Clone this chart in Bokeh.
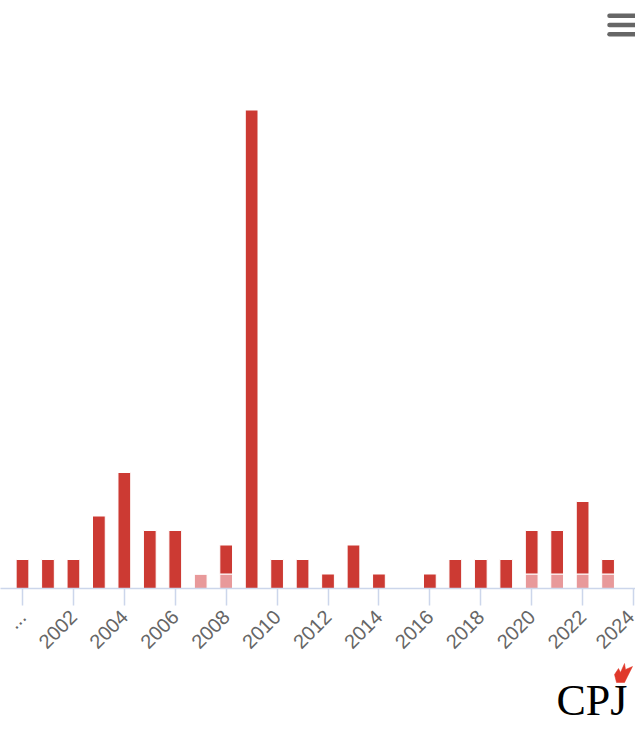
import math
from bokeh.plotting import figure
from bokeh.layouts import column
from bokeh.models import Range1d, FixedTicker, ColumnDataSource
from bokeh.core.properties import value
from bokeh.embed import file_html
from bokeh.resources import INLINE

# ---- data ----
years = [2000, 2001, 2002, 2003, 2004, 2005, 2006, 2007, 2008, 2009, 2010, 2011,
         2012, 2013, 2014, 2015, 2016, 2017, 2018, 2019, 2020, 2021, 2022, 2023]
confirmed = [2, 2, 2, 5, 8, 4, 4, 0, 2, 33, 2, 2, 1, 3, 1, 0, 1, 2, 2, 2, 3, 3, 5, 1]
unconfirmed = [0, 0, 0, 0, 0, 0, 0, 1, 1, 0, 0, 0, 0, 0, 0, 0, 0, 0, 0, 0, 1, 1, 1, 1]
tick_years = [2000, 2002, 2004, 2006, 2008, 2010, 2012, 2014, 2016, 2018, 2020, 2022, 2024]
tick_labels = {2000: "...", 2002: "2002", 2004: "2004", 2006: "2006", 2008: "2008",
               2010: "2010", 2012: "2012", 2014: "2014", 2016: "2016", 2018: "2018",
               2020: "2020", 2022: "2022", 2024: "2024"}
logo_text = ["CPJ"]

RED = "#cc3a33"
PINK = "#e8999a"
AXIS = "#ccd6eb"

W = 635
H_MAIN = 662
H_LOGO = 736 - H_MAIN
PX_PER_YEAR = 25.46
X0 = 2000 - 22 / PX_PER_YEAR
X1 = X0 + W / PX_PER_YEAR
FRAME_H = 588
UNIT_PX = 14.5
Y1 = FRAME_H / UNIT_PX

p = figure(width=W, height=H_MAIN, output_backend="svg", toolbar_location=None,
           x_range=Range1d(X0, X1), y_range=Range1d(0, Y1),
           y_axis_type=None, min_border_left=0, min_border_right=0,
           min_border_top=0, min_border_bottom=H_MAIN - FRAME_H)
p.outline_line_color = None
p.xgrid.visible = False
p.ygrid.visible = False
p.background_fill_color = "white"
p.border_fill_color = "white"

src = ColumnDataSource(dict(year=years, unconfirmed=unconfirmed, confirmed=confirmed))
p.vbar_stack(["unconfirmed", "confirmed"], x="year", width=0.5, source=src,
             color=[PINK, RED], line_color="white", line_width=1)

ax = p.xaxis[0]
ax.ticker = FixedTicker(ticks=tick_years)
ax.major_label_overrides = tick_labels
ax.major_label_orientation = math.pi / 4
ax.major_label_text_color = "#666666"
ax.major_label_text_font = "Liberation Sans"
ax.major_label_text_font_size = "20px"
ax.major_label_standoff = 8
ax.axis_line_color = AXIS
ax.axis_line_width = 1.5
ax.major_tick_line_color = AXIS
ax.major_tick_line_width = 1.5
ax.major_tick_in = 0
ax.major_tick_out = 17
ax.minor_tick_line_color = None

# ---- menu icon (screen px -> data coordinates) ----
def sx(px):
    return X0 + px / PX_PER_YEAR

def sy(py):
    return (FRAME_H - py) / UNIT_PX

for py in (15.3, 24.5, 33.8):
    p.segment(x0=[sx(609)], y0=[sy(py)], x1=[sx(645)], y1=[sy(py)],
              line_color="#666666", line_width=4.5, line_cap="round")

# ---- CPJ logo strip (pixel coordinates, y downward) ----
logo = figure(width=W, height=H_LOGO, output_backend="svg", toolbar_location=None,
              x_range=Range1d(0, W), y_range=Range1d(H_LOGO, 0),
              x_axis_type=None, y_axis_type=None,
              min_border=0, min_border_left=0, min_border_right=0,
              min_border_top=0, min_border_bottom=0)
logo.outline_line_color = None
logo.xgrid.visible = False
logo.ygrid.visible = False
top = H_MAIN
logo.text(x=[556], y=[38], text=logo_text, text_font=value("Liberation Serif"),
          text_font_size="44px", text_color="black", text_baseline="alphabetic",
          text_align="left")
fx = [616, 614, 618, 620, 624, 625, 632, 627, 624]
fy = [682, 674, 668, 672, 663, 669, 666, 676, 682]
logo.patch(x=fx, y=[v - top for v in fy], fill_color="#e0392b", line_color="#e0392b",
           line_width=0.5)

open("out.html", "w").write(file_html(column(p, logo, spacing=0), INLINE))
